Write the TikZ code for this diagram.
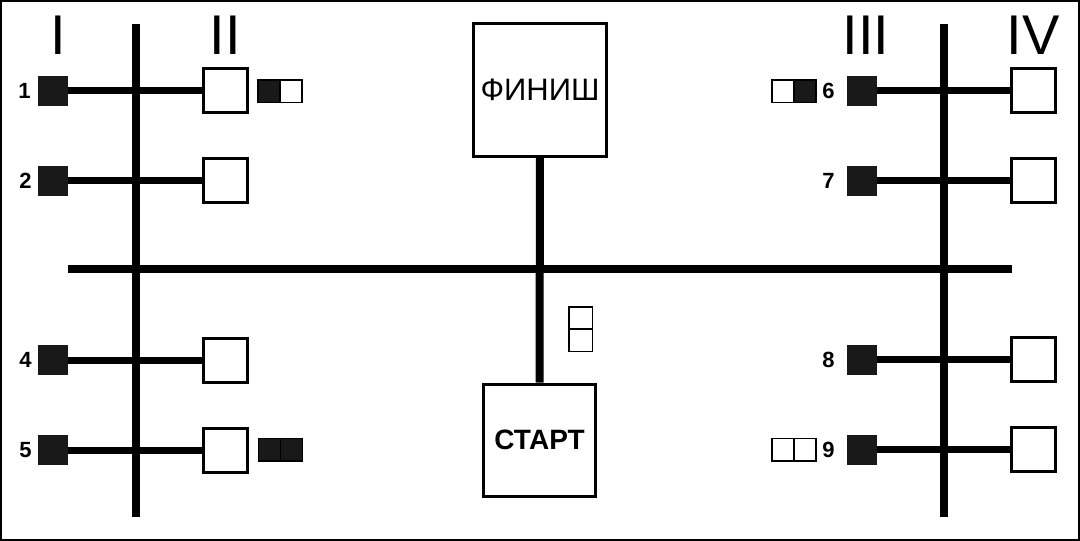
\documentclass[tikz,border=0pt]{standalone}
\usepackage{fontspec}
\setmainfont{Liberation Sans}
\usetikzlibrary{positioning}
\tikzset{
  bus line/.style={line width=8pt, draw=black},
  arm line/.style={line width=7pt, draw=black},
  sq dark/.style={
    rectangle, fill=black!90, minimum size=30pt, inner sep=0pt
  },
  sq light/.style={
    rectangle, draw=black, line width=3pt, fill=white,
    minimum size=44pt, inner sep=0pt
  },
  cell dark/.style={
    rectangle, draw=black, line width=1.5pt, fill=black!90,
    minimum width=22pt, minimum height=22.5pt,
    inner sep=0pt, outer sep=0pt
  },
  cell light/.style={cell dark, fill=white},
  goal box/.style={
    rectangle, draw=black, line width=3pt, fill=white, inner sep=0pt
  },
  num label/.style={font=\fontsize{22}{24}\selectfont\bfseries, inner sep=0pt},
  roman label/.style={font=\fontsize{56}{60}\selectfont, inner sep=0pt, anchor=base}
}
\begin{document}
\begin{tikzpicture}[x=1pt, y=-1pt, node distance=7pt]
  \useasboundingbox (0,0) rectangle (1080,541);
  \draw[line width=2pt] (1,1) rectangle (1079,540);

  % main lines
  \coordinate (ltop) at (136,24);
  \coordinate (lbot) at (136,517);
  \coordinate (rtop) at (944,24);
  \coordinate (rbot) at (944,517);
  \coordinate (hleft) at (68,269);
  \coordinate (hright) at (1012,269);
  \draw[bus line] (ltop) -- (lbot);
  \draw[bus line] (rtop) -- (rbot);
  \draw[bus line] (hleft) -- (hright);

  % finish and start
  \node (fin) [goal box, minimum size=133pt, font=\fontsize{31}{34}\selectfont] at (540,90) {ФИНИШ};
  \node (start) [goal box, minimum size=112pt, font=\fontsize{28}{30}\selectfont\bfseries] at (539.5,440) {СТАРТ};
  \draw[bus line] (fin) -- (start);

  % roman numerals
  \node (r1) [roman label] at (58,54) {I};
  \node (r2) [roman label] at (225,54) {II};
  \node (r3) [roman label] at (866,54) {III};
  \node (r4) [roman label] at (1033,54) {IV};

  % left side
  \node (s1) [sq dark] at (53,90.5) {};
  \node (s2) [sq dark] at (53,180.5) {};
  \node (s4) [sq dark] at (53,360) {};
  \node (s5) [sq dark] at (53,450) {};
  \node (w1) [sq light] at (225,90.5) {};
  \node (w2) [sq light] at (225,180.5) {};
  \node (w4) [sq light] at (225,360) {};
  \node (w5) [sq light] at (225,450) {};
  \draw[arm line] (s1) -- (w1);
  \draw[arm line] (s2) -- (w2);
  \draw[arm line] (s4) -- (w4);
  \draw[arm line] (s5) -- (w5);
  \node (n1) [num label, left=7pt of s1] {1};
  \node (n2) [num label, left=6pt of s2] {2};
  \node (n4) [num label, left=6pt of s4] {4};
  \node (n5) [num label, left=6pt of s5] {5};

  % right side
  \node (s6) [sq dark] at (862,90.5) {};
  \node (s7) [sq dark] at (862,180.5) {};
  \node (s8) [sq dark] at (862,359.5) {};
  \node (s9) [sq dark] at (862,449.5) {};
  \node (w6) [sq light] at (1033,90.5) {};
  \node (w7) [sq light] at (1033,180.5) {};
  \node (w8) [sq light] at (1033,359.5) {};
  \node (w9) [sq light] at (1033,449.5) {};
  \draw[arm line] (s6) -- (w6);
  \draw[arm line] (s7) -- (w7);
  \draw[arm line] (s8) -- (w8);
  \draw[arm line] (s9) -- (w9);
  \node (n6) [num label, left=12pt of s6] {6};
  \node (n7) [num label, left=12pt of s7] {7};
  \node (n8) [num label, left=12pt of s8] {8};
  \node (n9) [num label, left=12pt of s9] {9};

  % small cells
  \node (c1a) [cell dark] at (268.75,91) {};
  \node (c1b) [cell light, right=0pt of c1a] {};
  \node (c5a) [cell dark] at (269.5,449.5) {};
  \node (c5b) [cell dark, right=0pt of c5a] {};
  \node (c6a) [cell light] at (782.75,91) {};
  \node (c6b) [cell dark, right=0pt of c6a] {};
  \node (c9a) [cell light] at (782.75,449.5) {};
  \node (c9b) [cell light, right=0pt of c9a] {};
  \node (cma) [cell light, minimum width=23.5pt, minimum height=22.25pt] at (580.5,318) {};
  \node (cmb) [cell light, minimum width=23.5pt, minimum height=22.25pt, below=0pt of cma] {};
\end{tikzpicture}
\end{document}
